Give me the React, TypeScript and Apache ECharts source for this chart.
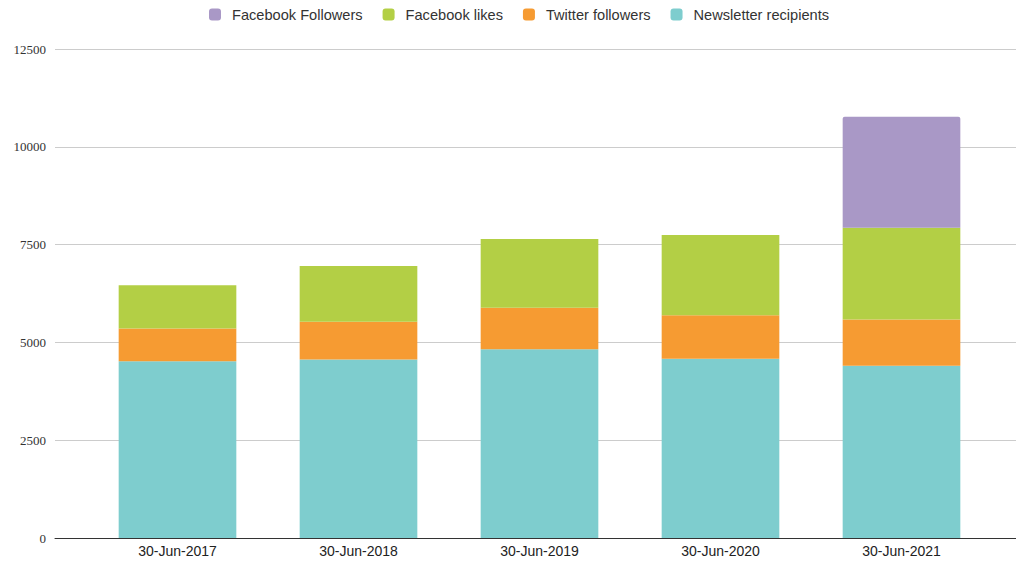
import React, { useEffect, useRef } from "react";
import * as echarts from "echarts";

const categories = ["30-Jun-2017", "30-Jun-2018", "30-Jun-2019", "30-Jun-2020", "30-Jun-2021"];
const newsletterRecipients = [4520, 4564, 4827, 4579, 4400];
const twitterFollowers = [837, 961, 1057, 1118, 1187];
const facebookLikes = [1107, 1425, 1757, 2046, 2343];
const facebookFollowers = [null, null, null, null, 2840];
const yTicks = { min: 0, max: 12500, interval: 2500 };

const colors = {
  newsletter: "#7ecdce",
  twitter: "#f69b32",
  likes: "#b3cf45",
  followers: "#a998c6",
};

export default function App() {
  const ref = useRef<HTMLDivElement>(null);
  useEffect(() => {
    if (!ref.current) return;
    const chart = echarts.init(ref.current, null, { renderer: "svg" });
    const mk = (name: string, data: (number | null)[], color: string, radius?: number[]) => ({
      name,
      type: "bar",
      stack: "total",
      xAxisIndex: 1,
      yAxisIndex: 1,
      data,
      barCategoryGap: "35%",
      itemStyle: { color, borderRadius: radius || 0 },
      emphasis: { disabled: true },
    });
    chart.setOption({
      animation: false,
      backgroundColor: "#ffffff",
      legend: {
        top: 2,
        left: 204,
        itemWidth: 12,
        itemHeight: 12,
        itemGap: 20,
        icon: "roundRect",
        data: ["Facebook Followers", "Facebook likes", "Twitter followers", "Newsletter recipients"],
        textStyle: {
          fontFamily: "Liberation Sans, Arial, sans-serif",
          fontSize: 14.6,
          color: "#333",
          padding: [0, 0, 0, 6],
        },
      },
      grid: [
        { left: 55, right: 0, top: 49, bottom: 24 },
        { left: 87, width: 905, top: 49, bottom: 24 },
      ],
      xAxis: [
        {
          gridIndex: 0,
          type: "category",
          data: [""],
          axisLine: { show: true, lineStyle: { color: "#333", width: 1 } },
          axisTick: { show: false },
          axisLabel: { show: false },
          splitLine: { show: false },
        },
        {
          gridIndex: 1,
          type: "category",
          data: categories,
          axisLine: { show: false },
          axisTick: { show: false },
          axisLabel: {
            margin: 6,
            fontFamily: "Liberation Sans Narrow, Liberation Sans, Arial, sans-serif",
            fontSize: 14,
            color: "#222",
          },
        },
      ],
      yAxis: [
        {
          gridIndex: 0,
          type: "value",
          min: yTicks.min,
          max: yTicks.max,
          interval: yTicks.interval,
          axisLine: { show: false },
          axisTick: { show: false },
          axisLabel: {
            margin: 9,
            formatter: (v: number) => String(v),
            fontFamily: "Liberation Serif, Times New Roman, serif",
            fontSize: 13,
            color: "#333",
          },
          splitLine: { show: true, lineStyle: { color: "#cccccc", width: 1 } },
        },
        {
          gridIndex: 1,
          type: "value",
          min: yTicks.min,
          max: yTicks.max,
          interval: yTicks.interval,
          show: false,
          splitLine: { show: false },
        },
      ],
      series: [
        mk("Newsletter recipients", newsletterRecipients, colors.newsletter),
        mk("Twitter followers", twitterFollowers, colors.twitter),
        mk("Facebook likes", facebookLikes, colors.likes),
        mk("Facebook Followers", facebookFollowers, colors.followers, [2, 2, 0, 0]),
      ],
    });
    return () => chart.dispose();
  }, []);
  return (
    <div
      ref={ref}
      style={{ position: "absolute", left: 0, top: 0, width: 1016, height: 562, overflow: "hidden" }}
    />
  );
}
